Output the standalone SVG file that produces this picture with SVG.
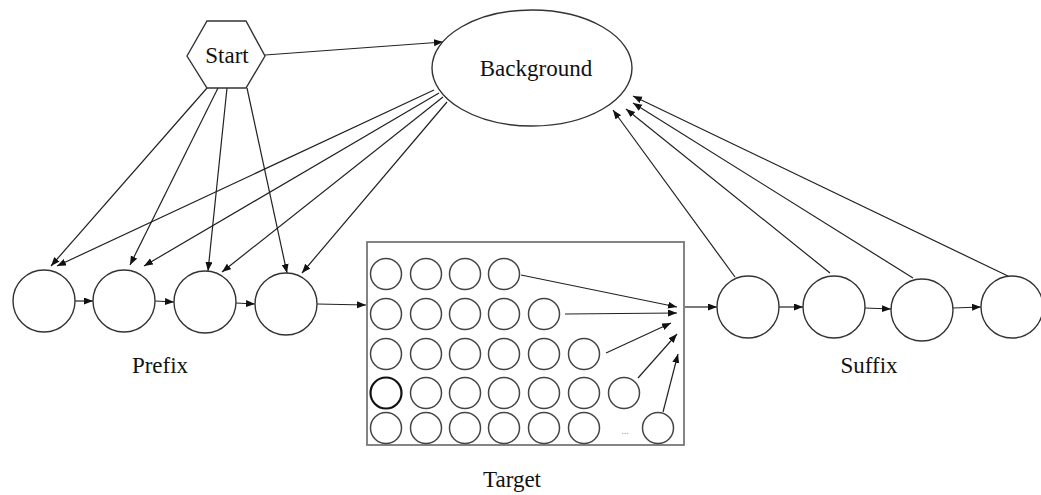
<svg xmlns="http://www.w3.org/2000/svg" width="1041" height="495" viewBox="0 0 1041 495">
<style>
.n{fill:#fff;stroke:#333;stroke-width:1.4}
.s{fill:#fff;stroke:#444;stroke-width:1.5}
.e{fill:none;stroke:#222;stroke-width:1.2;marker-end:url(#ah)}
.t{font-family:"Liberation Serif","Times New Roman",serif;font-size:23px;fill:#111;text-anchor:middle}
</style>
<defs>
<marker id="ah" markerUnits="userSpaceOnUse" markerWidth="10" markerHeight="8" refX="9" refY="3.5" orient="auto">
<path d="M0,0 L9,3.5 L0,7 Z" fill="#111"/>
</marker>
</defs>
<rect width="1041" height="495" fill="#fff"/>
<g id="connectors">
<line class="e" x1="265" y1="55" x2="443" y2="42"/>
<line class="e" x1="207" y1="88" x2="51" y2="266"/>
<line class="e" x1="218" y1="88" x2="130" y2="265"/>
<line class="e" x1="227" y1="88" x2="208" y2="271"/>
<line class="e" x1="247" y1="88" x2="287" y2="273"/>
<line class="e" x1="434" y1="90" x2="57" y2="266"/>
<line class="e" x1="439" y1="93" x2="144" y2="266"/>
<line class="e" x1="443" y1="97" x2="222" y2="272"/>
<line class="e" x1="447" y1="102" x2="302" y2="273"/>
<line class="e" x1="75" y1="301" x2="93" y2="301"/>
<line class="e" x1="155" y1="301" x2="174" y2="302"/>
<line class="e" x1="236" y1="303" x2="255" y2="304"/>
<line class="e" x1="317" y1="304" x2="366" y2="305"/>
<line class="e" x1="521" y1="275" x2="677" y2="307"/>
<line class="e" x1="565" y1="314" x2="677" y2="313"/>
<line class="e" x1="606" y1="353" x2="671" y2="323"/>
<line class="e" x1="638" y1="378" x2="677" y2="334"/>
<line class="e" x1="663" y1="412" x2="678" y2="354"/>
<line class="e" x1="685" y1="307" x2="717" y2="307"/>
<line class="e" x1="779" y1="307" x2="803" y2="307"/>
<line class="e" x1="865" y1="308" x2="891" y2="309"/>
<line class="e" x1="953" y1="308" x2="981" y2="307"/>
<line class="e" x1="735" y1="277" x2="613" y2="110"/>
<line class="e" x1="830" y1="273" x2="626" y2="109"/>
<line class="e" x1="913" y1="278" x2="633" y2="103"/>
<line class="e" x1="1010" y1="277" x2="633" y2="96"/>
</g>
<g id="start">
<polygon class="n" points="187,56 207,21 246,21 265,56 246,88 207,88"/>
<text class="t" x="227" y="63">Start</text>
</g>
<g id="background">
<ellipse class="n" cx="532" cy="68" rx="100" ry="58"/>
<text class="t" x="536" y="76">Background</text>
</g>
<g id="prefix">
<circle class="n" cx="44" cy="301" r="31"/>
<circle class="n" cx="124" cy="301" r="31"/>
<circle class="n" cx="205" cy="302" r="31"/>
<circle class="n" cx="286" cy="304" r="31"/>
<text class="t" x="160" y="373">Prefix</text>
</g>
<g id="target">
<rect x="367" y="242" width="317" height="203" fill="none" stroke="#777" stroke-width="1.8"/>
<g class="s">
<circle cx="386" cy="274" r="15.5"/><circle cx="426" cy="274" r="15.5"/><circle cx="465" cy="274" r="15.5"/><circle cx="504" cy="274" r="15.5"/>
<circle cx="386" cy="314" r="15.5"/><circle cx="426" cy="314" r="15.5"/><circle cx="465" cy="314" r="15.5"/><circle cx="504" cy="314" r="15.5"/><circle cx="544" cy="314" r="15.5"/>
<circle cx="386" cy="354" r="15.5"/><circle cx="426" cy="354" r="15.5"/><circle cx="465" cy="354" r="15.5"/><circle cx="504" cy="354" r="15.5"/><circle cx="544" cy="354" r="15.5"/><circle cx="584" cy="354" r="15.5"/>
<circle cx="386" cy="393" r="15.5" stroke="#111" stroke-width="2.2"/><circle cx="426" cy="393" r="15.5"/><circle cx="465" cy="393" r="15.5"/><circle cx="504" cy="393" r="15.5"/><circle cx="544" cy="393" r="15.5"/><circle cx="584" cy="393" r="15.5"/><circle cx="624" cy="393" r="15.5"/>
<circle cx="386" cy="428" r="15.5"/><circle cx="426" cy="428" r="15.5"/><circle cx="465" cy="428" r="15.5"/><circle cx="504" cy="428" r="15.5"/><circle cx="544" cy="428" r="15.5"/><circle cx="584" cy="428" r="15.5"/>
<circle cx="658" cy="428" r="15.5"/>
</g>
<text x="625" y="434" font-family="Liberation Serif, serif" font-size="10" fill="#99a" text-anchor="middle">...</text>
<text class="t" x="512" y="487">Target</text>
</g>
<g id="suffix">
<circle class="n" cx="748" cy="307" r="31"/>
<circle class="n" cx="834" cy="307" r="31"/>
<circle class="n" cx="922" cy="310" r="31"/>
<circle class="n" cx="1012" cy="307" r="31"/>
<text class="t" x="869" y="373">Suffix</text>
</g>
</svg>
